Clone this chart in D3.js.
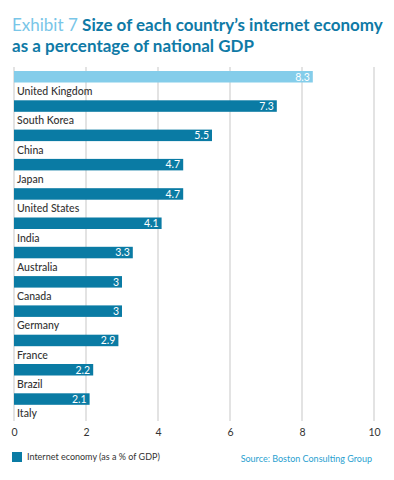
<!DOCTYPE html>
<html>
<head>
<meta charset="utf-8">
<script src="https://cdn.jsdelivr.net/npm/d3@7"></script>
<style>
body{margin:0;background:#fff;}
text{font-family:Lato,sans-serif;}
</style>
</head>
<body>
<div id="chart"></div>
<script>
// data
var countries = ["United Kingdom","South Korea","China","Japan","United States","India","Australia","Canada","Germany","France","Brazil","Italy"];
var values = [8.3,7.3,5.5,4.7,4.7,4.1,3.3,3,3,2.9,2.2,2.1];
var highlight = ["United Kingdom"];
var ticks = [0,2,4,6,8,10];

var W = 394, H = 480;
var svg = d3.select("#chart").append("svg")
    .attr("width", W)
    .attr("height", H);

// title
var title = svg.append("text").attr("x",12).attr("y",31)
    .style("font-size","17px");
title.append("tspan").text("Exhibit 7 ").attr("fill","#79c6e8");
title.append("tspan").text("Size of each country\u2019s internet economy")
    .attr("fill","#0f7aa6").style("font-weight","bold");
svg.append("text").attr("x",12).attr("y",52)
    .style("font-size","17px").style("font-weight","bold")
    .attr("fill","#0f7aa6")
    .text("as a percentage of national GDP");

var x = d3.scaleLinear().domain([0,10]).range([14,374]);
var y = d3.scaleBand().domain(countries).range([71,71+12*29.3]).padding(0);

// grid
svg.selectAll("line.grid")
    .data(ticks)
  .enter().append("line")
    .attr("class","grid")
    .attr("x1",function(d){return x(d);})
    .attr("x2",function(d){return x(d);})
    .attr("y1",67)
    .attr("y2",421)
    .attr("stroke","#d4d4d4")
    .attr("stroke-width",1.3);

// bars
svg.selectAll("rect.bar")
    .data(countries)
  .enter().append("rect")
    .attr("class","bar")
    .attr("x",x(0))
    .attr("y",function(d){return y(d);})
    .attr("width",function(d,i){return x(values[i])-x(0);})
    .attr("height",11.5)
    .attr("fill",function(d){return highlight.indexOf(d)>=0 ? "#84cdea" : "#0a7ba4";});

// value labels
svg.selectAll("text.val")
    .data(countries)
  .enter().append("text")
    .attr("class","val")
    .attr("x",function(d,i){return x(values[i])-3;})
    .attr("y",function(d){return y(d)+9.5;})
    .attr("text-anchor","end")
    .attr("fill","#fff")
    .style("font-size","10.5px")
    .text(function(d,i){return values[i];});

// country labels
svg.selectAll("text.cat")
    .data(countries)
  .enter().append("text")
    .attr("class","cat")
    .attr("x",17)
    .attr("y",function(d){return y(d)+24;})
    .attr("fill","#333")
    .style("font-size","10.5px")
    .style("font-weight","500")
    .text(function(d){return d;});

// x axis
var ax = svg.append("g")
    .attr("transform","translate(0,429)")
    .call(d3.axisBottom(x).tickValues(ticks).tickSize(0).tickPadding(0));
ax.select(".domain").remove();
ax.selectAll("text").attr("fill","#333").style("font-size","10.5px").style("font-family","Lato");

// legend
svg.append("rect").attr("x",12).attr("y",452).attr("width",10).attr("height",10).attr("fill","#0a7ba4");
svg.append("text").attr("x",27).attr("y",460).attr("fill","#333")
    .style("font-size","9px").text("Internet economy (as a % of GDP)");
svg.append("text").attr("x",372).attr("y",462).attr("text-anchor","end").attr("fill","#2a9fd0")
    .style("font-size","9px").text("Source: Boston Consulting Group");
</script>
</body>
</html>
